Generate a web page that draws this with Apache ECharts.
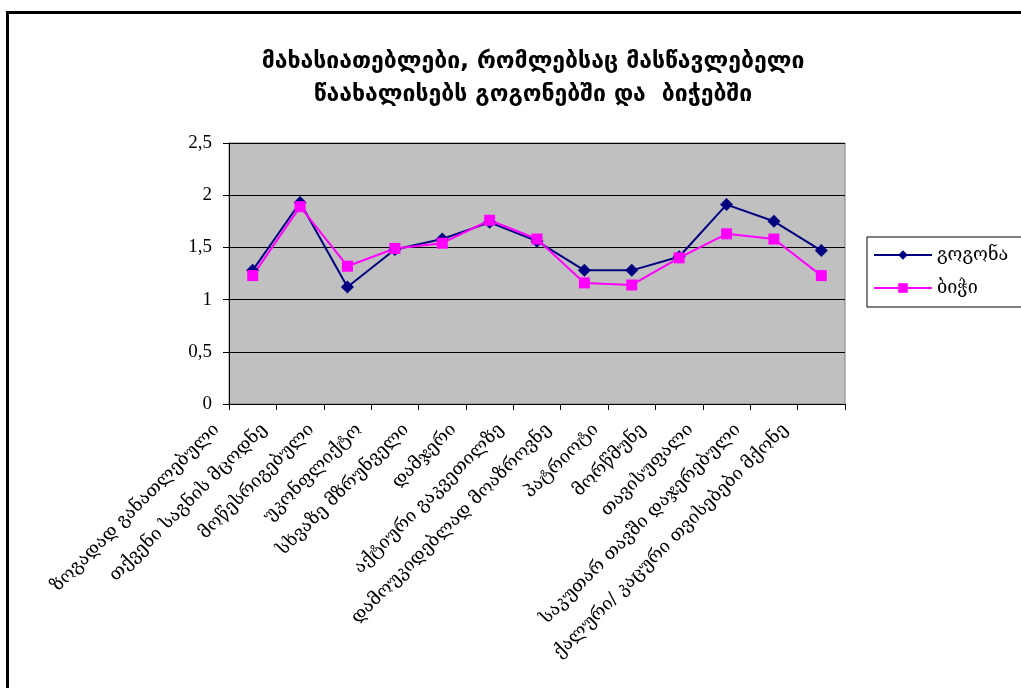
<!DOCTYPE html>
<html>
<head>
<meta charset="utf-8">
<script src="https://cdn.jsdelivr.net/npm/echarts@6/dist/echarts.min.js"></script>
<style>
  html, body { margin: 0; padding: 0; background: #ffffff; }
  #chart { width: 1021px; height: 688px; }
</style>
</head>
<body>
<div id="chart"></div>
<script>
// Traits teachers encourage, by gender
const titleLines = [
  'მახასიათებლები, რომლებსაც მასწავლებელი',
  'წაახალისებს გოგონებში და  ბიჭებში'
];
const categories = [
  'ზოგადად განათლებული',
  'თქვენი საგნის მცოდნე',
  'მოწესრიგებული',
  'უკონფლიქტო',
  'სხვაზე მზრუნველი',
  'დამჯერი',
  'აქტიური გაკვეთილზე',
  'დამოუკიდებლად მოაზროვნე',
  'პატრიოტი',
  'მორწმუნე',
  'თავისუფალი',
  'საკუთარ თავში დაჯერებული',
  'ქალური/ კაცური თვისებები მქონე'
];
const seriesNames = ['გოგონა', 'ბიჭი'];
const girls = [1.28, 1.93, 1.12, 1.48, 1.58, 1.74, 1.56, 1.28, 1.28, 1.41, 1.91, 1.75, 1.47];
const boys  = [1.23, 1.89, 1.32, 1.49, 1.54, 1.76, 1.58, 1.16, 1.14, 1.40, 1.63, 1.58, 1.23];
const yTicks = { min: 0, max: 2.5, interval: 0.5 };

const chart = echarts.init(document.getElementById('chart'), null, { renderer: 'canvas' });

const option = {
  backgroundColor: '#ffffff',
  animation: false,
  graphic: [{
    type: 'rect',
    shape: { x: 7.5, y: 12.5, width: 1100, height: 800 },
    style: { fill: 'none', stroke: '#000000', lineWidth: 3 },
    silent: true
  }],
  title: {
    text: titleLines.join('\n'),
    left: 528,
    top: 41,
    textAlign: 'center',
    textStyle: {
      fontFamily: 'DejaVu Sans',
      fontWeight: 'bold',
      fontSize: 23,
      lineHeight: 33,
      color: '#000000'
    }
  },
  legend: {
    orient: 'vertical',
    left: 867,
    top: 237,
    padding: [9, 40, 10, 6],
    itemWidth: 58,
    itemHeight: 12,
    itemGap: 15,
    backgroundColor: '#ffffff',
    borderColor: '#000000',
    borderWidth: 1,
    borderRadius: 0,
    textStyle: { fontFamily: 'DejaVu Serif', fontSize: 18, color: '#000000' },
    data: seriesNames
  },
  grid: {
    left: 229,
    right: 176,
    top: 143,
    bottom: 284,
    show: true,
    backgroundColor: '#c0c0c0',
    borderColor: '#808080',
    borderWidth: 1
  },
  xAxis: {
    type: 'category',
    data: categories,
    boundaryGap: true,
    axisLine: { lineStyle: { color: '#000000', width: 1 } },
    axisTick: { show: true, alignWithLabel: false, length: 6, lineStyle: { color: '#000000' } },
    axisLabel: {
      interval: 0,
      rotate: 45,
      margin: 8,
      verticalAlign: 'bottom',
      padding: [0, 36, 6, 0],
      fontFamily: 'DejaVu Serif',
      fontSize: 18,
      color: '#000000'
    },
    splitLine: { show: false }
  },
  yAxis: {
    type: 'value',
    min: yTicks.min,
    max: yTicks.max,
    interval: yTicks.interval,
    axisLine: { show: true, lineStyle: { color: '#000000', width: 1 } },
    axisTick: { show: true, length: 6, lineStyle: { color: '#000000' } },
    axisLabel: {
      margin: 17,
      fontFamily: 'Liberation Serif',
      fontSize: 19,
      color: '#000000',
      formatter: v => String(v).replace('.', ',')
    },
    splitLine: { show: true, lineStyle: { color: '#000000', width: 1 } }
  },
  series: [
    {
      name: seriesNames[0],
      type: 'line',
      data: girls,
      symbol: 'diamond',
      symbolSize: 13,
      itemStyle: { color: '#000080' },
      lineStyle: { color: '#000080', width: 2 }
    },
    {
      name: seriesNames[1],
      type: 'line',
      data: boys,
      symbol: 'rect',
      symbolSize: 11,
      itemStyle: { color: '#ff00ff' },
      lineStyle: { color: '#ff00ff', width: 2 }
    }
  ]
};

chart.setOption(option);
</script>
</body>
</html>
